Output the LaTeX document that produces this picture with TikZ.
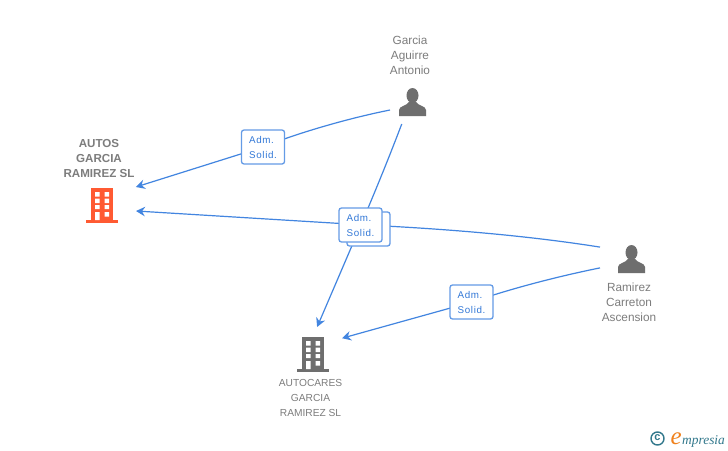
\documentclass[tikz,border=0pt]{standalone}
\usepackage{fontspec}
\setmainfont{Liberation Sans}
\newfontfamily\logofont{Liberation Serif}
\definecolor{linkblue}{RGB}{66,133,224}
\definecolor{labelblue}{RGB}{50,120,215}
\definecolor{boxblue}{RGB}{100,155,230}
\definecolor{txtgrey}{RGB}{125,125,125}
\definecolor{icongrey}{RGB}{110,110,110}
\definecolor{orangeco}{RGB}{255,90,50}
\definecolor{logoteal}{RGB}{50,120,140}
\definecolor{logoorange}{RGB}{240,130,30}
\usetikzlibrary{arrows.meta}
\tikzset{
  x=1pt,y=-1pt,
  anchorbox/.style={inner sep=0pt,outer sep=0pt,draw=none,fill=none,rectangle},
  link/.style={draw=linkblue,line width=1.2pt,-{Stealth[length=9pt,width=9.5pt,inset=3pt]}},
  roleback/.style={draw=boxblue,line width=1.3pt,fill=white,rounded corners=2.5pt,minimum width=43pt,minimum height=34pt,inner sep=0pt},
  rolebox/.style={roleback,align=left,text=labelblue,font=\fontsize{9.8}{15}\selectfont\addfontfeatures{LetterSpace=7}},
  nametext/.style={align=center,text=txtgrey,inner sep=0pt,font=\fontsize{11.8}{15}\selectfont},
  capname/.style={nametext,font=\fontsize{10.2}{15}\selectfont},
  boldname/.style={nametext,font=\fontsize{11.6}{15}\selectfont\bfseries},
}
\newcommand{\persongl}[2]{%
  \fill[icongrey,shift={(#1,#2)}] (0,-6.5) ellipse [x radius=6,y radius=7.5];
  \fill[icongrey,shift={(#1,#2)}] (-13.5,14) -- (-13.5,8) .. controls (-13.5,4) and (-6,4) .. (-3.5,0) -- (3.5,0) .. controls (6,4) and (13.5,4) .. (13.5,8) -- (13.5,14) -- cycle;
}
\newcommand{\buildinggl}[3]{%
  \begin{scope}[shift={(#1,#2)}]
    \fill[#3] (-11,-17) rectangle (11,16);
    \fill[#3] (-16,15) rectangle (16,18);
    \fill[white] (-7,-13) rectangle (-2.5,-8.5) (2.5,-13) rectangle (7,-8.5)
                 (-7,-6.5) rectangle (-2.5,-2) (2.5,-6.5) rectangle (7,-2)
                 (-7,0) rectangle (-2.5,4) (2.5,0) rectangle (7,4)
                 (-7,7) rectangle (-2.5,15) (2.5,7) rectangle (7,11.5);
  \end{scope}
}
\begin{document}
\begin{tikzpicture}
\useasboundingbox (0,0) rectangle (728,450);
\fill[white] (0,0) rectangle (728,450);

% invisible boxes whose borders carry the connector ends
\node[anchorbox,minimum width=68pt,minimum height=36pt] (autos) at (102,205) {};
\node[anchorbox,minimum width=44pt,minimum height=44pt] (garcia) at (412,102) {};
\node[anchorbox,minimum width=62pt,minimum height=44pt] (ramirez) at (631,259) {};
\node[anchorbox,minimum width=58pt,minimum height=52pt] (autocares) at (313,353) {};

% connectors
\draw[link] (garcia.200) .. controls (345,119) and (295,134) .. (263,147) -- (autos.28);
\draw[link] (ramirez.159) .. controls (530,236) and (450,229) .. (365,225) -- (autos.-10);
\draw[link] (garcia.245.6) .. controls (390,155) and (375,192) .. (360,227) -- (autocares.81.3);
\draw[link] (ramirez.196.2) .. controls (555,277) and (510,289) .. (472,302) -- (autocares.27.3);

% role boxes
\node[roleback] (role2b) at (368.5,229) {};
\node[rolebox] (role1) at (263,147) {Adm.\\Solid.};
\node[rolebox] (role2) at (360.5,225) {Adm.\\Solid.};
\node[rolebox] (role3) at (471.5,302) {Adm.\\Solid.};

% icons
\buildinggl{102}{205}{orangeco}
\buildinggl{313}{354}{icongrey}
\persongl{412.5}{102}
\persongl{631.5}{259}

% names
\node[boldname] (nameautos) at (99,159) {AUTOS\\GARCIA\\RAMIREZ SL};
\node[nametext] (namegarcia) at (410,55) {Garcia\\Aguirre\\Antonio};
\node[nametext] (nameramirez) at (629,302) {Ramirez\\Carreton\\Ascension};
\node[capname] (nameautocares) at (310.5,398) {AUTOCARES\\GARCIA\\RAMIREZ SL};

% logo
\node[circle,draw=logoteal,line width=1.4pt,minimum size=13pt,inner sep=0pt,text=logoteal,font=\fontsize{11}{11}\selectfont\bfseries] (logoc) at (657.5,438.5) {\raisebox{1pt}{c}};
\node[anchor=base west,inner sep=0pt,text=logoorange,font=\logofont\itshape\fontsize{25}{25}\selectfont] (logoe) at (670.5,444) {e};
\node[anchor=base west,inner sep=0pt,text=logoteal,font=\logofont\itshape\fontsize{13.4}{13.4}\selectfont] (logom) at (682,444) {mpresia};
\end{tikzpicture}
\end{document}
